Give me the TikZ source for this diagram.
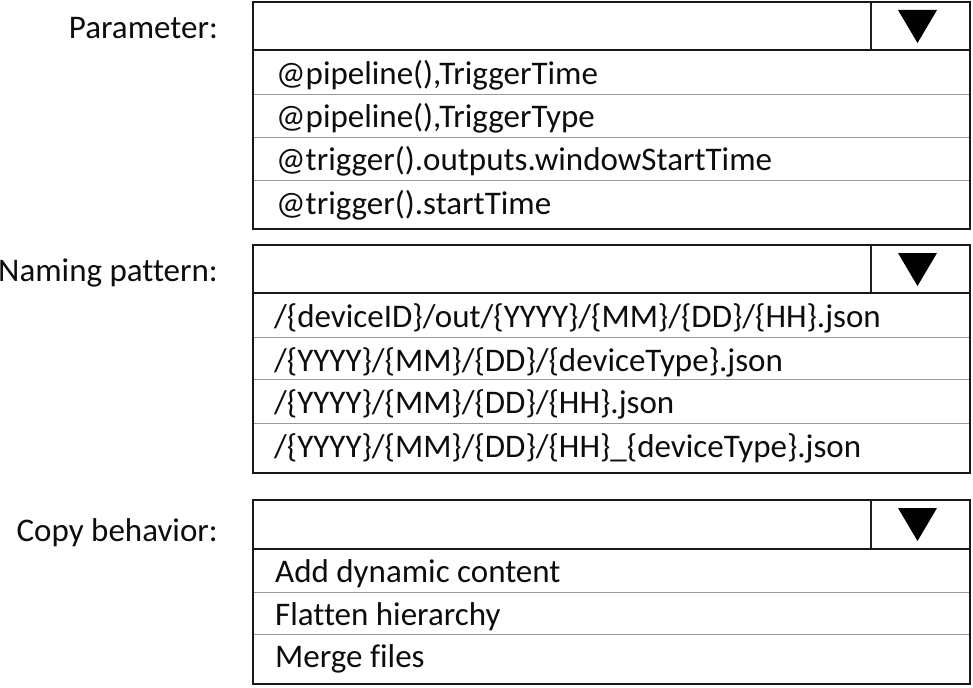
\documentclass[tikz,border=0pt]{standalone}
\usepackage{fontspec}
\setmainfont{Carlito}[Ligatures=NoCommon]
\begin{document}
\begin{tikzpicture}[x=1pt,y=-1pt,
  txt/.style={font=\fontsize{33}{36}\selectfont, text=black!95, inner sep=0pt},
  lbl/.style={txt, anchor=base east},
  opt/.style={txt, anchor=base west},
  frame/.style={draw=black!90, line width=2.4pt},
  hdr/.style={draw=black!90, line width=1.8pt},
  btn/.style={draw=black!88, line width=1.3pt},
  sep/.style={draw=black!40, line width=0.9pt},
  tri/.style={fill=black}]
\useasboundingbox (0,0) rectangle (973,687);

% ---------- Parameter ----------
\node[lbl] (plbl) at (218,39) {Parameter:};
\coordinate (p1) at (253,2);  \coordinate (p2) at (970,229);
\draw[sep] (253,94) -- (970,94) (253,137) -- (970,137) (253,180) -- (970,180);
\draw[btn] (871,2) -- (871,50);
\draw[hdr] (253,50) -- (970,50);
\draw[frame] (p1) rectangle (p2);
\fill[tri] (898,10) -- (937,10) -- (917.5,43) -- cycle;
\node[opt] (po1) at (276,85) {@pipeline(),TriggerTime};
\node[opt] (po2) at (276,128) {@pipeline(),TriggerType};
\node[opt] (po3) at (276,171) {@trigger().outputs.windowStartTime};
\node[opt] (po4) at (276,214) {@trigger().startTime};

% ---------- Naming pattern ----------
\node[lbl] (nlbl) at (218,281) {Naming pattern:};
\coordinate (n1) at (253,245);  \coordinate (n2) at (970,473);
\draw[sep] (253,337) -- (970,337) (253,379) -- (970,379) (253,423) -- (970,423);
\draw[btn] (871,245) -- (871,293);
\draw[hdr] (253,293) -- (970,293);
\draw[frame] (n1) rectangle (n2);
\fill[tri] (898,253) -- (937,253) -- (917.5,286) -- cycle;
\node[opt] (no1) at (274,327) {/\{deviceID\}/out/\{YYYY\}/\{MM\}/\{DD\}/\{HH\}.json};
\node[opt] (no2) at (274,371) {/\{YYYY\}/\{MM\}/\{DD\}/\{deviceType\}.json};
\node[opt] (no3) at (274,413) {/\{YYYY\}/\{MM\}/\{DD\}/\{HH\}.json};
\node[opt] (no4) at (274,457) {/\{YYYY\}/\{MM\}/\{DD\}/\{HH\}\_\{deviceType\}.json};

% ---------- Copy behavior ----------
\node[lbl] (clbl) at (218,541) {Copy behavior:};
\coordinate (c1) at (253,500);  \coordinate (c2) at (970,684);
\draw[sep] (253,592) -- (970,592) (253,634) -- (970,634);
\draw[btn] (871,500) -- (871,549);
\draw[hdr] (253,549) -- (970,549);
\draw[frame] (c1) rectangle (c2);
\fill[tri] (898,508) -- (937,508) -- (917.5,541) -- cycle;
\node[opt] (co1) at (275,582) {Add dynamic content};
\node[opt] (co2) at (275,625) {Flatten hierarchy};
\node[opt] (co3) at (275,667) {Merge files};
\end{tikzpicture}
\end{document}
